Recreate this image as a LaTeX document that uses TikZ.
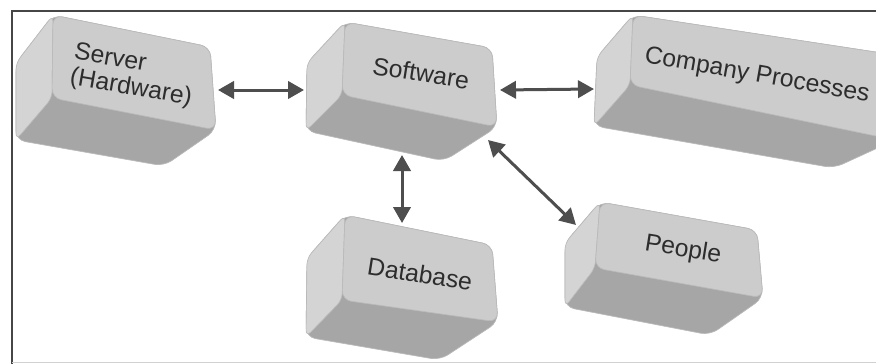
\documentclass[tikz,border=0pt]{standalone}
\usepackage{fontspec}
\setmainfont{Liberation Sans}
\usetikzlibrary{arrows.meta}

\definecolor{keytop}{RGB}{204,204,204}
\definecolor{keyleft}{RGB}{212,212,212}
\definecolor{keyfront}{RGB}{166,166,166}
\definecolor{keyedge}{RGB}{186,186,186}
\definecolor{linkgray}{RGB}{78,78,78}
\definecolor{labelgray}{RGB}{45,45,45}
\definecolor{framegray}{RGB}{70,70,70}

\tikzset{every picture/.style={line width=0.75pt}}
\tikzset{
  keybody/.style={fill=keyfront, draw=keyedge, line width=0.5, rounded corners=7},
  keyside/.style={fill=keyleft, draw=keyedge, line width=0.5, rounded corners=5},
  keyface/.style={fill=keytop, draw=keyedge, line width=0.5, rounded corners=7},
  keylabel/.style={text=labelgray, font=\fontsize{18.5}{19}\selectfont, inner sep=0pt},
  link/.style={{Triangle[length=12pt,width=13pt]}-{Triangle[length=12pt,width=13pt]}, draw=linkgray, line width=2.25pt}
}

\begin{document}
\begin{tikzpicture}[x=0.75pt,y=0.75pt,yscale=-1,xscale=1]
	\clip (0,0) rectangle (876,364);
	\fill [white] (0,0) rectangle (876,364);

	%Shape: Frame
	\draw [color=framegray, line width=1.5] (12,364) -- (12,10.5) -- (876,10.5);
	\draw [color=framegray!25, line width=0.75] (12,362) -- (876,362);

	%Shape: Key [Server]
	\draw [keybody] (16,63) -- (53,15) -- (210,47) -- (216,130) -- (164,166) -- (16,140) -- cycle;
	\draw [keyside] (16,63) -- (53,15) -- (52,98) -- (16,140) -- cycle;
	\draw [keyface] (53,15) -- (210,47) -- (216,130) -- (52,98) -- cycle;
	%Shape: Key [Software]
	\draw [keybody] (307,63) -- (345,22) -- (492,48) -- (497,127) -- (444,161) -- (306,131) -- cycle;
	\draw [keyside] (307,63) -- (345,22) -- (342,95) -- (306,131) -- cycle;
	\draw [keyface] (345,22) -- (492,48) -- (497,127) -- (342,95) -- cycle;
	%Shape: Key [Company Processes]
	\draw [keybody] (597,57) -- (633,15) -- (895,55) -- (895,140) -- (834,168) -- (594,126) -- cycle;
	\draw [keyside] (597,57) -- (633,15) -- (630,85) -- (594,126) -- cycle;
	\draw [keyface] (633,15) -- (895,55) -- (895,140) -- (630,85) -- cycle;
	%Shape: Key [Database]
	\draw [keybody] (307,258) -- (345,215) -- (492,245) -- (498,322) -- (440,360) -- (306,337) -- cycle;
	\draw [keyside] (307,258) -- (345,215) -- (342,300) -- (306,337) -- cycle;
	\draw [keyface] (345,215) -- (492,245) -- (498,322) -- (342,300) -- cycle;
	%Shape: Key [People]
	\draw [keybody] (565,243) -- (600,202) -- (757,230) -- (763,298) -- (710,335) -- (565,307) -- cycle;
	\draw [keyside] (565,243) -- (600,202) -- (595,268) -- (565,307) -- cycle;
	\draw [keyface] (600,202) -- (757,230) -- (763,298) -- (595,268) -- cycle;

	% Text Node
	\node [keylabel, rotate=-10, align=left] (srv) at (133,76) {Server\\(Hardware)};
	% Text Node
	\node [keylabel, rotate=-9] (sw) at (421,73) {Software};
	% Text Node
	\node [keylabel, rotate=-10] (cp) at (757,76) {Company Processes};
	% Text Node
	\node [keylabel, rotate=-9] (db) at (420,274) {Database};
	% Text Node
	\node [keylabel, rotate=-9] (pp) at (683,250) {People};

	%Arrow ends
	\coordinate (srvE) at (218,90);
	\coordinate (swW) at (304,90);
	\coordinate (swE) at (500,90);
	\coordinate (cpW) at (594,89);
	\coordinate (swS) at (402,155);
	\coordinate (dbN) at (402,223);
	\coordinate (swSE) at (488,140);
	\coordinate (ppNW) at (576,225);

	%Straight Lines
	\draw [link] (srvE) -- (swW);
	\draw [link] (swE) -- (cpW);
	\draw [link] (swS) -- (dbN);
	\draw [link] (swSE) -- (ppNW);

\end{tikzpicture}
\end{document}
